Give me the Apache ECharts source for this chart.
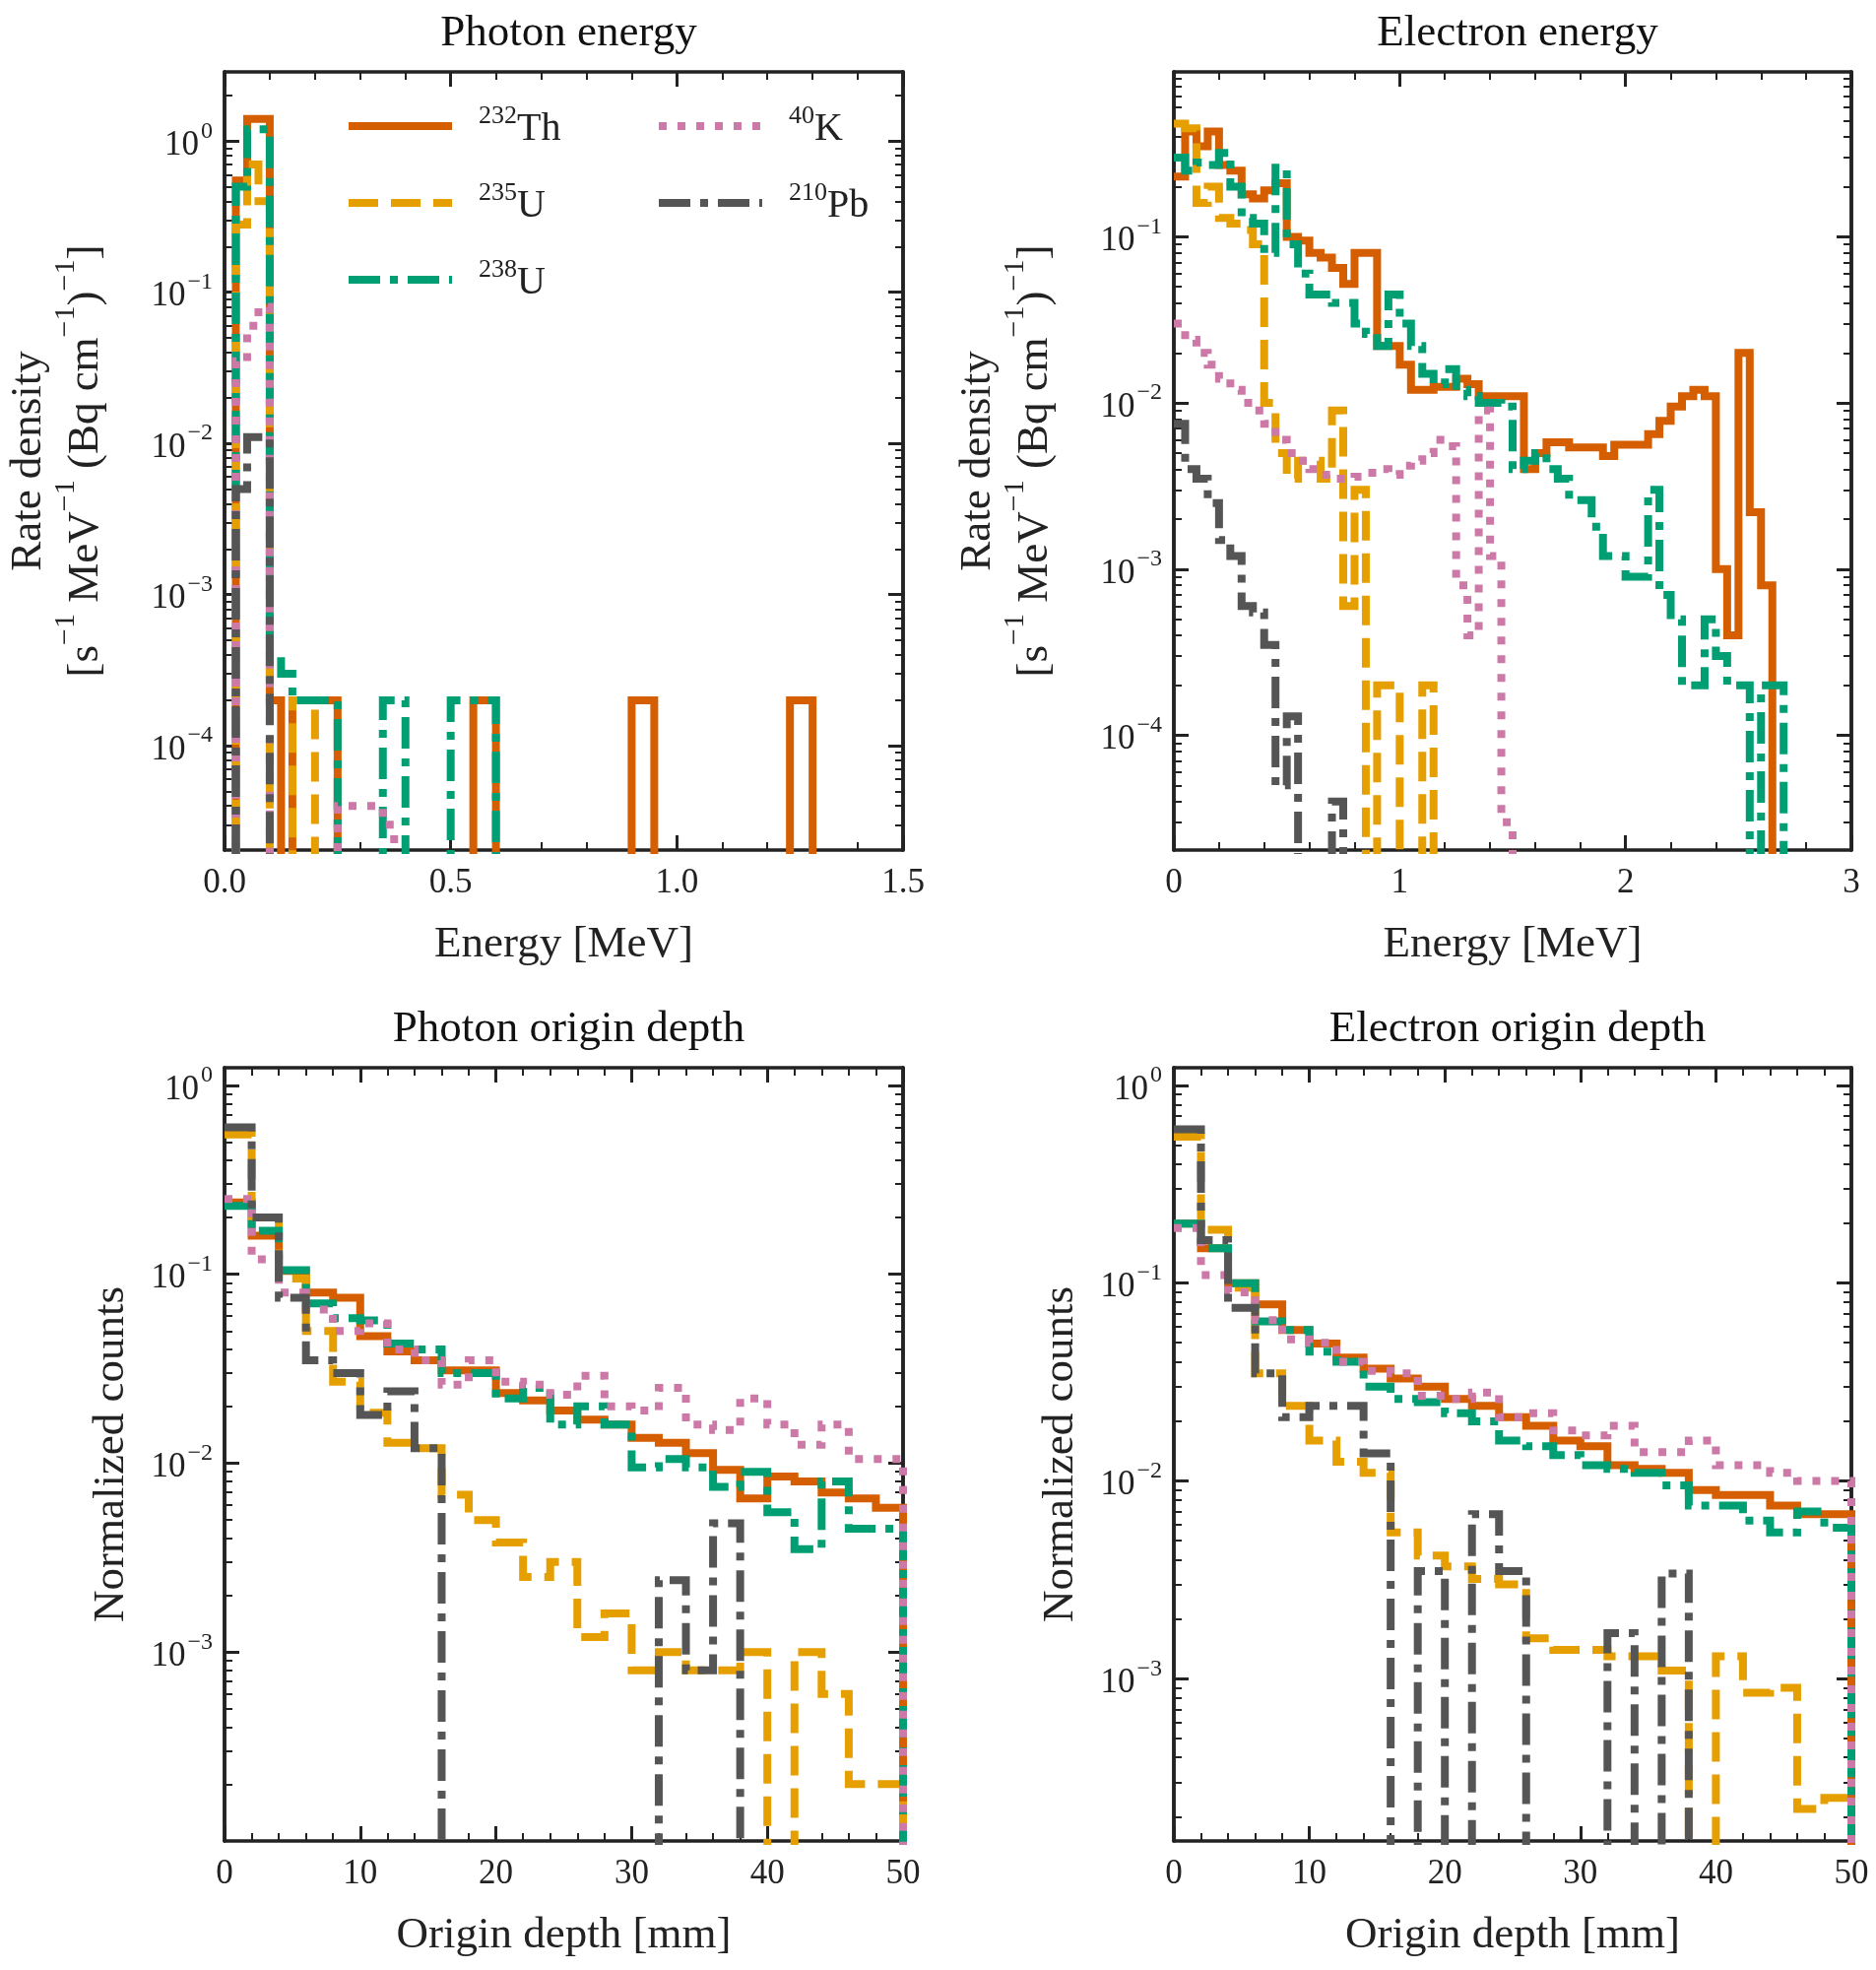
<!DOCTYPE html>
<html><head><meta charset="utf-8">
<script src="https://cdn.jsdelivr.net/npm/echarts@6/dist/echarts.min.js"></script>
<style>html,body{margin:0;padding:0;background:#fff}#c{width:1905px;height:2000px}</style>
</head><body><div id="c"></div>
<script>
// ---------- DATA ----------
const SERIES_NAMES = ['Th232','U235','U238','K40','Pb210'];
const LEGEND_SUP = {Th232:['232','Th'],U235:['235','U'],U238:['238','U'],K40:['40','K'],Pb210:['210','Pb']};
const PANEL_TITLES = ['Photon energy','Electron energy','Photon origin depth','Electron origin depth'];
const X_NAMES = ['Energy [MeV]','Energy [MeV]','Origin depth [mm]','Origin depth [mm]'];

// Photon energy, bin width 0.025 MeV
const PE_TH  = [0,0.55,1.4,1.4,2e-4,0,2e-4,2e-4,2e-4,2e-4,0,0,0,0,0,0,0,0,0,0,0,0,2e-4,2e-4,0,0,0,0,0,0,0,0,0,0,0,0,2e-4,2e-4,0,0,0,0,0,0,0,0,0,0,0,0,2e-4,2e-4];
const PE_U235= [0,0.28,0.7,0.4,0,0,2e-4,2e-4];
const PE_U238= [0,0.5,1.2,1.2,4e-4,3e-4,2e-4,2e-4,2e-4,2e-4,0,0,0,0,2e-4,2e-4,0,0,0,0,2e-4,2e-4,2e-4,2e-4];
const PE_K40 = [0,0.035,0.06,0.08,0,0,0,0,0,0,4e-5,4e-5,4e-5,4e-5,3e-5];
const PE_PB  = [0,0.005,0.011,0.011];

// Electron energy, bin width 0.05 MeV
const EE_TH  = [0.23,0.43,0.35,0.43,0.27,0.25,0.18,0.17,0.19,0.21,0.1,0.095,0.08,0.075,0.065,0.052,0.08,0.08,0.022,0.022,0.017,0.012,0.012,0.0125,0.0125,0.014,0.013,0.011,0.011,0.011,0.011,0.004,0.005,0.0058,0.0058,0.0054,0.0054,0.0054,0.0048,0.0056,0.0056,0.0056,0.0065,0.0078,0.0095,0.011,0.012,0.011,0.001,0.0004,0.02,0.0022,0.0008,0];
const EE_U235= [0.48,0.45,0.16,0.2,0.13,0.12,0.11,0.09,0.01,0.005,0.0035,0.0045,0.0045,0.0035,0.009,0.0006,0.003,0,2e-4,2e-4,0,0,2e-4];
const EE_U238= [0.3,0.25,0.28,0.27,0.32,0.2,0.13,0.12,0.08,0.26,0.09,0.06,0.045,0.045,0.04,0.04,0.03,0.026,0.022,0.045,0.03,0.022,0.015,0.013,0.016,0.012,0.011,0.01,0.01,0.0095,0.004,0.0045,0.005,0.004,0.0035,0.0026,0.0026,0.0018,0.0012,0.0012,0.0009,0.0009,0.003,0.0007,0.0005,0.0002,0.0002,0.0005,0.0003,0.0002,0.0002,0,0.0002,0.0002];
const EE_K40 = [0.03,0.024,0.02,0.017,0.014,0.012,0.01,0.009,0.0075,0.006,0.005,0.0045,0.004,0.0037,0.0035,0.0035,0.0036,0.0038,0.004,0.0037,0.0042,0.0045,0.005,0.006,0.0055,0.0008,0.0004,0.009,0.0012,0.00003];
const EE_PB  = [0.0075,0.004,0.0035,0.0025,0.0015,0.0012,0.0006,0.00055,0.00035,0.00005,0.00013,0,0,0,0.00004];

// Photon origin depth, bin width 2 mm
const DEPTH_EDGES = [0,2,4,6,8,10,12,14,16,18,20,22,24,26,28,30,32,34,36,38,40,42,44,46,48,50];
const PD_TH  = [0.24,0.16,0.104,0.08,0.075,0.047,0.039,0.035,0.031,0.031,0.0235,0.0215,0.019,0.017,0.016,0.0136,0.0128,0.0113,0.0092,0.0065,0.0085,0.008,0.007,0.0065,0.0058];
const PD_U235= [0.55,0.2,0.095,0.05,0.027,0.0185,0.0128,0.012,0.0068,0.005,0.0038,0.0025,0.003,0.0012,0.0016,0.0008,0.001,0.0008,0.0008,0.001,0,0.001,0.0006,0.0002,0.0002];
const PD_U238= [0.23,0.17,0.105,0.07,0.0585,0.057,0.043,0.04,0.03,0.03,0.022,0.025,0.016,0.02,0.016,0.0095,0.0105,0.0095,0.0075,0.009,0.0055,0.0035,0.008,0.0045,0.0045];
const PD_K40 = [0.25,0.12,0.08,0.065,0.05,0.055,0.04,0.035,0.026,0.035,0.027,0.026,0.023,0.029,0.02,0.019,0.025,0.016,0.015,0.022,0.016,0.0125,0.016,0.0105,0.0105];
const PD_PB  = [0.6,0.2,0.075,0.035,0.03,0.018,0.024,0.012,0,0,0,0,0,0,0,0,0.0024,0.0008,0.0048];

// Electron origin depth, bin width 2 mm
const ED_TH  = [0.2,0.15,0.1,0.078,0.058,0.0495,0.042,0.037,0.033,0.03,0.026,0.024,0.021,0.019,0.016,0.015,0.012,0.0115,0.011,0.009,0.0085,0.0085,0.0075,0.0068,0.0068];
const ED_U235= [0.55,0.186,0.095,0.035,0.024,0.016,0.0125,0.011,0.0055,0.0042,0.0037,0.0032,0.003,0.0016,0.0014,0.0014,0.0013,0.0013,0.0011,0,0.0013,0.00085,0.0009,0.00022,0.00025];
const ED_U238= [0.2,0.15,0.1,0.064,0.058,0.045,0.04,0.03,0.026,0.025,0.022,0.02,0.016,0.015,0.0135,0.012,0.0115,0.011,0.0095,0.0075,0.0075,0.0063,0.0055,0.007,0.0058];
const ED_K40 = [0.19,0.11,0.09,0.065,0.052,0.05,0.04,0.036,0.035,0.027,0.026,0.028,0.021,0.022,0.018,0.017,0.019,0.014,0.014,0.016,0.012,0.012,0.011,0.01,0.01];
const ED_PB  = [0.6,0.165,0.075,0.035,0.021,0.024,0.024,0.0138,0,0.0035,0,0.0068,0.0035,0,0,0,0.0017,0,0.0034];

// Axis ranges (decades) and x ticks
const Y_RANGES = [[-4.69,0.458],[-4.69,-0.008],[-4,0.093],[-3.82,0.089]];
const Y_MAJOR = [[-4,-3,-2,-1,0],[-4,-3,-2,-1],[-3,-2,-1,0],[-3,-2,-1,0]];
const X_RANGES = [[0,1.5,0.5,5],[0,3,1,5],[0,50,10,5],[0,50,10,5]];
const X_LABEL_DIGITS = [1,0,0,0];

// ---------- BUILD ----------
const COLORS = {Th232:'#D55E00',U235:'#E69F00',U238:'#009E73',K40:'#CC79A7',Pb210:'#555555'};
const DASH = {Th232:'solid',U235:[30,13],U238:[32,10,8,10],K40:[8,11],Pb210:[32,10,8,10]};
const FONT = 'Liberation Serif';
const LW = 8;
function edgesOf(w,n){const e=[];for(let k=0;k<=n;k++)e.push(+(k*w).toFixed(4));return e;}
const PANELS = [
  {edges:edgesOf(0.025,60),vals:[PE_TH,PE_U235,PE_U238,PE_K40,PE_PB]},
  {edges:edgesOf(0.05,60),vals:[EE_TH,EE_U235,EE_U238,EE_K40,EE_PB]},
  {edges:DEPTH_EDGES,vals:[PD_TH,PD_U235,PD_U238,PD_K40,PD_PB]},
  {edges:DEPTH_EDGES,vals:[ED_TH,ED_U235,ED_U238,ED_K40,ED_PB]}
];
const FLOOR=-7;
function stepData(edges,vals){
  const L=v=>v>0?Math.log10(v):FLOOR;
  const p=[];
  for(let i=0;i<vals.length;i++)p.push([edges[i],L(vals[i])]);
  const n=vals.length;p.push([edges[n],L(vals[n-1])]);p.push([edges[n],FLOOR]);
  return p;
}
function minorVals(r){const m=[];for(let d=Math.floor(r[0]);d<=Math.ceil(r[1]);d++)for(let k=2;k<=9;k++){const v=d+Math.log10(k);if(v>r[0]&&v<r[1])m.push(v);}return m;}
const GRIDS=[{left:228,top:73,width:689,height:790},{left:1192,top:73,width:688,height:790},
             {left:228,top:1084,width:689,height:785},{left:1192,top:1084,width:688,height:785}];
const AX='#222';
const grid=[],xAxis=[],yAxis=[],series=[],title=[];
const supLabel=v=>'{b|10}{s|'+(Math.round(v)<0?'−'+(-Math.round(v)):Math.round(v))+'}';
const richTick={b:{fontSize:35,fontFamily:FONT,color:'#222',lineHeight:44,verticalAlign:'bottom'},s:{fontSize:24,fontFamily:FONT,color:'#222',lineHeight:44,verticalAlign:'top',padding:[0,0,0,2]}};
GRIDS.forEach((g,gi)=>{
  grid.push(Object.assign({containLabel:false},g));
  const xr=X_RANGES[gi];
  const xbase={type:'value',gridIndex:gi,min:xr[0],max:xr[1],interval:xr[2],splitLine:{show:false},
    axisLine:{show:true,onZero:false,lineStyle:{color:AX,width:3.5}},
    axisTick:{show:true,inside:true,length:15,lineStyle:{color:AX,width:3}},
    minorTick:{show:true,splitNumber:xr[3],length:8,lineStyle:{color:AX,width:2}}};
  xAxis.push(Object.assign({},xbase,{position:'bottom',name:X_NAMES[gi],nameLocation:'middle',nameGap:74,
    nameTextStyle:{fontSize:45,fontFamily:FONT,color:'#222'},
    axisLabel:{fontSize:35,fontFamily:FONT,color:'#222',margin:16,formatter:v=>v.toFixed(X_LABEL_DIGITS[gi])}}));
  xAxis.push(Object.assign({},xbase,{position:'top',axisLabel:{show:false}}));
  const yr=Y_RANGES[gi];
  const ybase={type:'value',gridIndex:gi,min:yr[0],max:yr[1],splitLine:{show:false},
    axisLine:{show:true,onZero:false,lineStyle:{color:AX,width:3.5}}};
  const yName = gi<2
    ? '{n|Rate density}\n{n|[s}{s|−1}{n| MeV}{s|−1}{n| (Bq cm}{s|−1}{n|)}{s|−1}{n|]}'
    : '{n|Normalized counts}';
  const major=Y_MAJOR[gi], minor=minorVals(yr);
  ['left','right'].forEach(pos=>{
    yAxis.push(Object.assign({},ybase,{position:pos,
      name:pos==='left'?yName:'',nameLocation:'middle',nameGap:gi<2?118:92,nameRotate:90,
      nameTextStyle:{rich:{n:{fontSize:45,fontFamily:FONT,color:'#222',lineHeight:58,verticalAlign:'bottom'},s:{fontSize:30,fontFamily:FONT,color:'#222',lineHeight:58,verticalAlign:'top'}}},
      axisTick:{show:true,inside:true,length:15,customValues:major,lineStyle:{color:AX,width:3}},
      axisLabel:{show:pos==='left',customValues:major,margin:12,formatter:supLabel,rich:richTick}}));
    yAxis.push(Object.assign({},ybase,{position:pos,
      axisTick:{show:true,inside:true,length:8,customValues:minor,lineStyle:{color:AX,width:2}},
      axisLabel:{show:true,customValues:minor,formatter:()=>'',fontSize:1}}));
  });
  title.push({text:PANEL_TITLES[gi],left:g.left+g.width/2,top:g.top-66,textAlign:'center',
    textStyle:{fontSize:45,fontFamily:FONT,fontWeight:'normal',color:'#111'}});
  const P=PANELS[gi];
  SERIES_NAMES.forEach((nm,si)=>{
    series.push({type:'line',name:nm,xAxisIndex:gi*2,yAxisIndex:gi*4,step:'end',
      data:stepData(P.edges,P.vals[si]),symbol:'none',showSymbol:false,clip:true,animation:false,
      z:2+si,
      lineStyle:{color:COLORS[nm],width:LW,type:DASH[nm],cap:'butt',join:'miter'},itemStyle:{color:COLORS[nm]}});
  });
});
const legendCommon={itemWidth:105,itemHeight:24,itemGap:32,orient:'vertical',
  itemStyle:{opacity:0},lineStyle:{width:LW},
  formatter:n=>'{s|'+LEGEND_SUP[n][0]+'}{n|'+LEGEND_SUP[n][1]+'}',
  textStyle:{padding:[0,0,0,22],rich:{n:{fontSize:40,fontFamily:FONT,color:'#222',lineHeight:46,verticalAlign:'bottom'},s:{fontSize:26,fontFamily:FONT,color:'#222',lineHeight:46,verticalAlign:'top'}}}};
const chart=echarts.init(document.getElementById('c'),null,{renderer:'canvas'});
chart.setOption({backgroundColor:'#fff',animation:false,title,grid,xAxis,yAxis,series,
  legend:[Object.assign({},legendCommon,{data:['Th232','U235','U238'],left:345,top:100}),
          Object.assign({},legendCommon,{data:['K40','Pb210'],left:660,top:100})]});
</script></body></html>
